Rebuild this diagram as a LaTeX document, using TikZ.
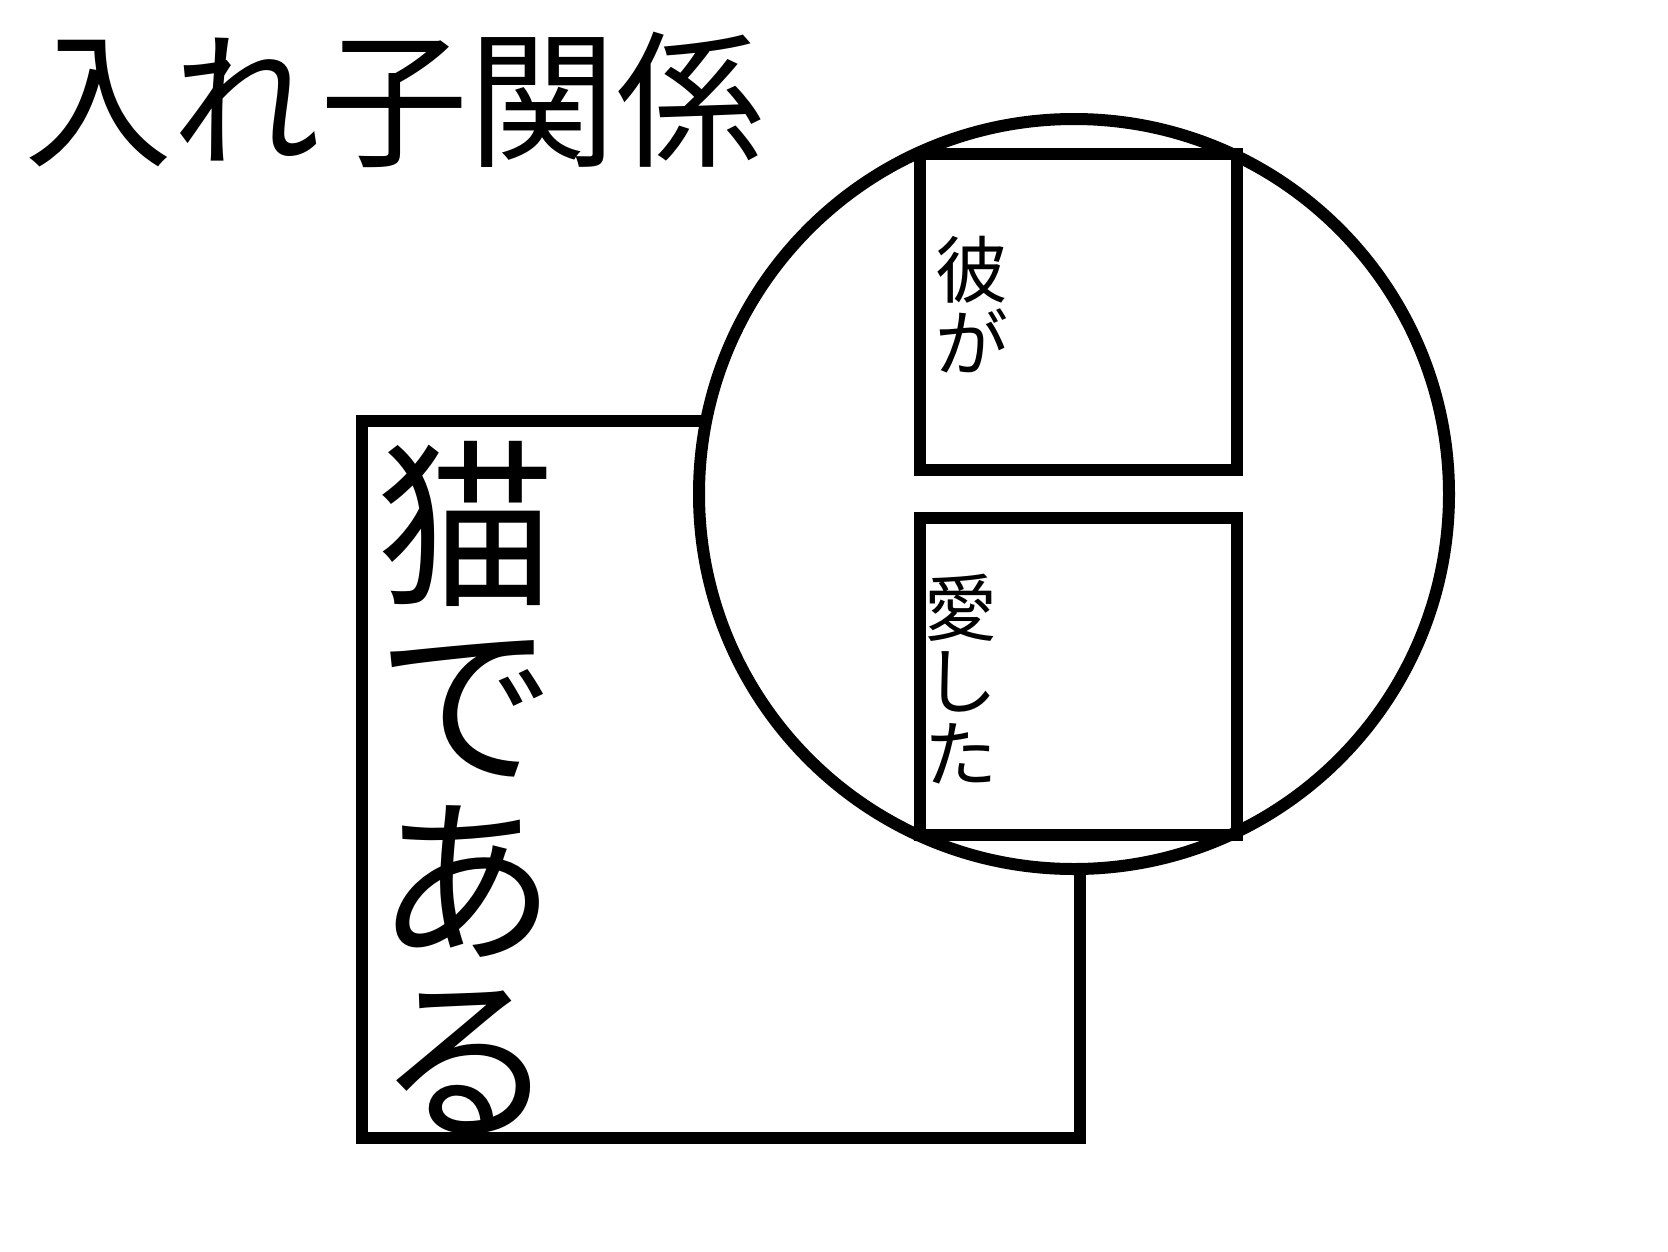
\documentclass[tikz,border=0pt]{standalone}
\usepackage{fontspec}
\newfontfamily\jpfont{Noto Sans CJK JP}
\begin{document}
\begin{tikzpicture}[x=1pt, y=-1pt, line width=12pt,
  box/.style={draw, rectangle, inner sep=0, outer sep=0, anchor=north west},
  tate/.style={inner sep=0, outer sep=0, align=center},
  bigtate/.style={tate, font=\jpfont\fontsize{180}{178}\selectfont},
  smalltate/.style={tate, font=\jpfont\fontsize{73}{73}\selectfont}]
\useasboundingbox[fill=white] (0,0) rectangle (1668,1251);
\node[inner sep=0, anchor=west, font=\jpfont\fontsize{148}{148}\selectfont] (title) at (18,100){入れ子関係};
% outer frame, then the circle on top of it
\node[box, minimum width=718pt, minimum height=717pt] (neko) at (362,421){};
\node[circle, draw, fill=white, inner sep=0, outer sep=0, minimum size=750pt] (ring) at (1074,494){};
\node[box, minimum width=317pt, minimum height=316pt] (kare) at (920,154){};
\node[box, minimum width=317pt, minimum height=317pt] (ai) at (920,518){};
\node[bigtate] (nekotext) at (466,788){猫\\で\\あ\\る};
\node[smalltate] (karetext) at (972,305){彼\\が};
\node[smalltate] (aitext) at (961,679){愛\\し\\た};
\end{tikzpicture}
\end{document}
